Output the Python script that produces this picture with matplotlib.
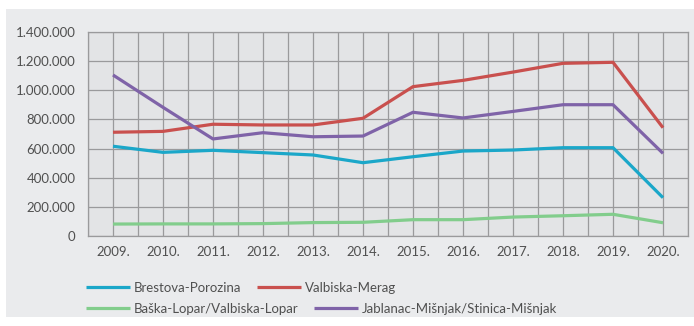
import matplotlib.pyplot as plt
from matplotlib.patches import Rectangle
from matplotlib.ticker import FuncFormatter, MultipleLocator

plt.rcParams['font.family'] = ['Lato', 'DejaVu Sans']

# passenger counts per ferry line
years = ['2009.', '2010.', '2011.', '2012.', '2013.', '2014.', '2015.',
         '2016.', '2017.', '2018.', '2019.', '2020.']
brestova = [616000, 574000, 588000, 572000, 556000, 503000, 544000,
            583000, 590000, 606000, 606000, 263000]
valbiska = [712000, 718000, 767000, 762000, 762000, 808000, 1025000,
            1068000, 1125000, 1185000, 1192000, 743000]
baska = [82000, 83000, 83000, 85000, 92000, 94000, 112000,
         112000, 130000, 139000, 149000, 91000]
jablanac = [1105000, 883000, 666000, 709000, 681000, 686000, 849000,
            810000, 855000, 901000, 901000, 567000]

names = ['Brestova-Porozina', 'Valbiska-Merag',
         'Baška-Lopar/Valbiska-Lopar', 'Jablanac-Mišnjak/Stinica-Mišnjak']
colors = ['#1ba7c9', '#c9504e', '#82cd8c', '#7f63a8']
text_col = '#505050'

fig = plt.figure(figsize=(6.94, 3.26), dpi=100)
fig.patch.set_facecolor('white')
panel = Rectangle((6 / 694, 9 / 326), 688 / 694, 308 / 326,
                  transform=fig.transFigure, facecolor='#eaebed',
                  edgecolor='none', zorder=-10)
fig.add_artist(panel)

ax = fig.add_axes([88 / 694, 90 / 326, 600 / 694, 204 / 326])
ax.set_facecolor('#e3e4e6')

x = list(range(len(years)))
lines = []
for vals, c in zip([brestova, valbiska, baska, jablanac], colors):
    ln, = ax.plot(x, vals, color=c, lw=2.3, solid_capstyle='butt', zorder=3)
    lines.append(ln)

ax.set_xlim(-0.5, len(years) - 0.5)
ax.set_ylim(0, 1400000)
ax.set_xticks(x)
ax.set_xticklabels(years)
ax.xaxis.set_minor_locator(MultipleLocator(0.5))
ax.yaxis.set_major_locator(MultipleLocator(200000))
ax.yaxis.set_major_formatter(FuncFormatter(lambda v, p: f'{int(v):,}'.replace(',', '.')))

ax.grid(True, which='both', axis='x', color='#9a9a9c', lw=0.9)
ax.grid(True, which='major', axis='y', color='#9a9a9c', lw=0.9)
ax.set_axisbelow(True)
for s in ['top', 'right', 'left', 'bottom']:
    ax.spines[s].set_color('#9a9a9c')
    ax.spines[s].set_linewidth(0.9)
ax.tick_params(which='both', length=0, labelsize=9.5, labelcolor=text_col)
ax.tick_params(axis='x', pad=7)
ax.tick_params(axis='y', pad=9)

leg_kw = dict(ncol=2, frameon=False, fontsize=9.5, handlelength=3.3,
              handletextpad=0.3, columnspacing=1.2, borderaxespad=0,
              labelcolor=text_col, loc='center left')
fig.legend(lines[:2], names[:2], bbox_to_anchor=(81 / 694, 1 - 288 / 326), **leg_kw)
fig.legend(lines[2:], names[2:], bbox_to_anchor=(81 / 694, 1 - 309 / 326), **leg_kw)

fig.savefig('out.png', dpi=100)
